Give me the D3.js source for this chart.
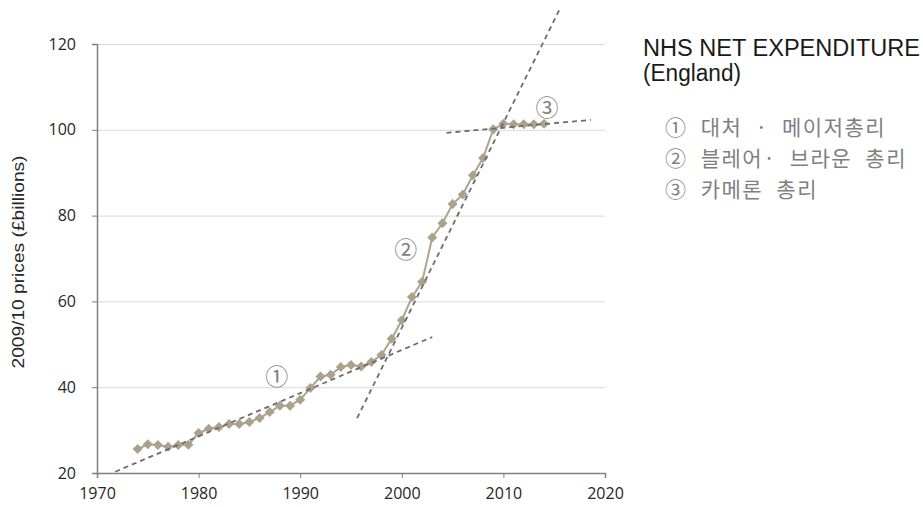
<!DOCTYPE html>
<html>
<head>
<meta charset="utf-8">
<script src="https://cdn.jsdelivr.net/npm/d3@7"></script>
<style>
  html, body { margin: 0; padding: 0; background: #fff; }
  svg { display: block; }
</style>
</head>
<body>
<div id="chart"></div>
<script>
// Dati
const years = [1974, 1975, 1976, 1977, 1978, 1979, 1980, 1981, 1982, 1983, 1984, 1985, 1986, 1987,
  1988, 1989, 1990, 1991, 1992, 1993, 1994, 1995, 1996, 1997, 1998, 1999, 2000, 2001, 2002, 2003,
  2004, 2005, 2006, 2007, 2008, 2009, 2010, 2011, 2012, 2013, 2014];
const spending = [25.6, 26.7, 26.5, 26.1, 26.5, 26.6, 29.3, 30.3, 30.7, 31.4, 31.4, 31.9, 32.8, 34.2,
  35.7, 35.7, 37.1, 39.8, 42.5, 42.9, 44.7, 45.2, 44.8, 45.9, 47.5, 51.3, 55.6, 61.0, 64.6, 74.9,
  78.2, 82.7, 84.9, 89.4, 93.4, 100.1, 101.4, 101.3, 101.3, 101.3, 101.4];

// Linee di tendenza: [anno, valore] inizio e fine
const trendLines = [
  [[1971.8, 20.3], [2003.0, 51.7]],
  [[1995.6, 32.8], [2015.6, 128.4]],
  [[2004.4, 99.3], [2018.6, 102.3]]
];

// Etichette cerchiate sul grafico
const periodMarks = [
  { label: "①", year: 1987.7, value: 42.8 },
  { label: "②", year: 2000.4, value: 72.5 },
  { label: "③", year: 2014.3, value: 105.5 }
];

const xTicks = [1970, 1980, 1990, 2000, 2010, 2020];
const yTicks = [20, 40, 60, 80, 100, 120];

const titleLines = ["NHS NET EXPENDITURE", "(England)"];
const legendLines = ["① 대처 · 메이저총리", "② 블레어· 브라운 총리", "③ 카메론 총리"];
const yTitle = "2009/10 prices (£billions)";

const width = 923, height = 507;
const margin = { top: 44, right: 318, bottom: 34, left: 97 };
const w = width - margin.left - margin.right;
const h = height - margin.top - margin.bottom;

const svg = d3.select("#chart").append("svg")
  .attr("width", width)
  .attr("height", height)
  .style("font-family", "'Liberation Sans', Arial, sans-serif");

const g = svg.append("g").attr("transform", `translate(${margin.left},${margin.top})`);

const x = d3.scaleLinear().domain([1970, 2020]).range([0, w]);
const y = d3.scaleLinear().domain([20, 120]).range([h, 0]);

// Griglia
g.append("g")
  .call(d3.axisLeft(y).tickValues(yTicks.filter(d => d > 20)).tickFormat("").tickSize(-w))
  .call(a => a.select(".domain").remove())
  .call(a => a.selectAll("line").attr("stroke", "#d9d9d9").attr("stroke-width", 1));

// Assi
const xAxis = g.append("g").attr("transform", `translate(0,${h})`)
  .call(d3.axisBottom(x).tickValues(xTicks).tickFormat(d3.format("d")).tickSize(5).tickPadding(10));
xAxis.select(".domain").attr("stroke", "#808080").attr("stroke-width", 1.5);
xAxis.selectAll("line").attr("stroke", "#808080");
xAxis.selectAll("text").attr("fill", "#262626")
  .style("font-family", "'Open Sans', sans-serif").style("font-size", "16px");

const yAxis = g.append("g")
  .call(d3.axisLeft(y).tickValues(yTicks).tickSize(5).tickPadding(16));
yAxis.select(".domain").attr("stroke", "#808080").attr("stroke-width", 1.5);
yAxis.selectAll("line").attr("stroke", "#808080");
yAxis.selectAll("text").attr("fill", "#262626")
  .style("font-family", "'Open Sans', sans-serif").style("font-size", "16px");

// Titolo asse Y
g.append("text")
  .attr("transform", "rotate(-90)")
  .attr("x", -(262 - margin.top))
  .attr("y", -(margin.left - 24))
  .attr("text-anchor", "middle")
  .attr("fill", "#262626")
  .attr("textLength", 213)
  .attr("lengthAdjust", "spacingAndGlyphs")
  .style("font-size", "16px")
  .text(yTitle);

// Serie
const line = d3.line().x(d => x(d[0])).y(d => y(d[1]));
const series = years.map((yr, i) => [yr, spending[i]]);

g.append("path")
  .datum(series)
  .attr("d", line)
  .attr("fill", "none")
  .attr("stroke", "#aea58f")
  .attr("stroke-width", 2);

g.selectAll(".pt")
  .data(series).enter().append("path")
  .attr("class", "pt")
  .attr("d", d3.symbol().type(d3.symbolDiamond2).size(64))
  .attr("transform", d => `translate(${x(d[0])},${y(d[1])})`)
  .attr("fill", "#aca28c");

// Tendenze
g.selectAll(".trend")
  .data(trendLines).enter().append("path")
  .attr("class", "trend")
  .attr("d", line)
  .attr("fill", "none")
  .attr("stroke", "#6b6b70")
  .attr("stroke-width", 1.8)
  .attr("stroke-dasharray", "5,4");

// Etichette periodi
g.selectAll(".mark")
  .data(periodMarks).enter().append("text")
  .attr("class", "mark")
  .attr("x", d => x(d.year))
  .attr("y", d => y(d.value))
  .attr("text-anchor", "middle")
  .attr("dominant-baseline", "central")
  .attr("fill", "#7f7f7f")
  .style("font-family", "'Noto Sans CJK KR', sans-serif")
  .style("font-size", "23px")
  .text(d => d.label);

// Legenda a destra
const leg = svg.append("g").attr("transform", "translate(643,0)");
const titleWidths = [277, 98];
leg.selectAll(".title")
  .data(titleLines).enter().append("text")
  .attr("class", "title")
  .attr("x", 0)
  .attr("y", (d, i) => 56 + i * 25)
  .attr("fill", "#1a1a1a")
  .attr("textLength", (d, i) => titleWidths[i])
  .attr("lengthAdjust", "spacingAndGlyphs")
  .style("font-size", "23px")
  .text(d => d);

leg.selectAll(".item")
  .data(legendLines).enter().append("text")
  .attr("class", "item")
  .attr("x", 22)
  .attr("y", (d, i) => 135 + i * 31)
  .attr("fill", "#7f7f7f")
  .style("font-family", "'Noto Sans CJK KR', sans-serif")
  .style("font-size", "21px")
  .style("letter-spacing", "1.5px")
  .style("word-spacing", "7px")
  .text(d => d);
</script>
</body>
</html>
